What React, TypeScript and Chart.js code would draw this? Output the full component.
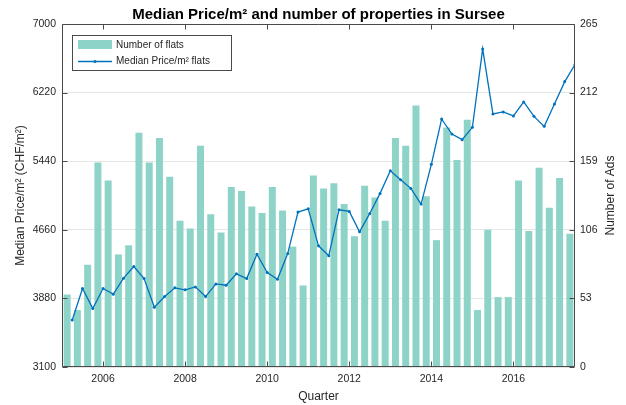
import React, { useEffect, useRef } from 'react';
import { Chart, registerables } from 'chart.js';

Chart.register(...registerables);

const QUARTERS = [
  '2005 Q1', '2005 Q2', '2005 Q3', '2005 Q4',
  '2006 Q1', '2006 Q2', '2006 Q3', '2006 Q4',
  '2007 Q1', '2007 Q2', '2007 Q3', '2007 Q4',
  '2008 Q1', '2008 Q2', '2008 Q3', '2008 Q4',
  '2009 Q1', '2009 Q2', '2009 Q3', '2009 Q4',
  '2010 Q1', '2010 Q2', '2010 Q3', '2010 Q4',
  '2011 Q1', '2011 Q2', '2011 Q3', '2011 Q4',
  '2012 Q1', '2012 Q2', '2012 Q3', '2012 Q4',
  '2013 Q1', '2013 Q2', '2013 Q3', '2013 Q4',
  '2014 Q1', '2014 Q2', '2014 Q3', '2014 Q4',
  '2015 Q1', '2015 Q2', '2015 Q3', '2015 Q4',
  '2016 Q1', '2016 Q2', '2016 Q3', '2016 Q4',
  '2017 Q1', '2017 Q2',
];

const FLATS = [
  56, 44, 79, 158, 144, 87, 94, 181, 158, 177,
  147, 113, 107, 171, 118, 104, 139, 136, 124, 119,
  139, 121, 93, 63, 148, 138, 142, 126, 101, 140,
  131, 113, 177, 171, 202, 132, 98, 185, 160, 191,
  44, 106, 54, 54, 144, 105, 154, 123, 146, 103,
];

const PRICE = [
  3635, 3992, 3764, 3992, 3928, 4110, 4242, 4106, 3780, 3901,
  4000, 3977, 4011, 3901, 4045, 4030, 4159, 4106, 4383, 4174,
  4098, 4390, 4861, 4899, 4478, 4364, 4888, 4869, 4637, 4846,
  5074, 5332, 5229, 5131, 4952, 5404, 5920, 5749, 5685, 5825,
  6717, 5977, 6000, 5955, 6114, 5950, 5836, 6091, 6345, 6539,
];

const LEFT_TICKS = [3100, 3880, 4660, 5440, 6220, 7000];
const RIGHT_TICKS = [0, 53, 106, 159, 212, 265];
const YEAR_TICKS = [2006, 2008, 2010, 2012, 2014, 2016];
const X_RANGE = [2005, 2017.5];

const TITLE = 'Median Price/m² and number of properties in Sursee';
const X_TITLE = 'Quarter';
const Y_TITLE = 'Median Price/m² (CHF/m²)';
const Y1_TITLE = 'Number of Ads';
const BAR_LABEL = 'Number of flats';
const LINE_LABEL = 'Median Price/m² flats';

const BAR_COLOR = '#8dd3c7';
const LINE_COLOR = '#0072bd';
const AXIS_COLOR = '#4a4a4a';
const TEXT_COLOR = '#262626';
const FONT = '"Liberation Sans", Arial, Helvetica, sans-serif';

function parseQuarter(q: string) {
  const [y, qq] = q.split(' Q');
  return { year: Number(y), q: Number(qq) };
}

const overlay = {
  id: 'matlabOverlay',
  afterDatasetsDraw(chart: any) {
    const { ctx, chartArea: a, scales } = chart;
    ctx.save();
    ctx.strokeStyle = AXIS_COLOR;
    ctx.lineWidth = 1;
    const L = Math.round(a.left) + 0.5;
    const R = Math.round(a.right) - 0.5;
    const T = Math.round(a.top) + 0.5;
    const B = Math.round(a.bottom) - 0.5;
    ctx.beginPath();
    ctx.rect(L, T, R - L, B - T);
    ctx.stroke();
    const tl = 5;
    ctx.beginPath();
    for (const v of YEAR_TICKS) {
      const x = Math.round(scales.x.getPixelForValue(v)) + 0.5;
      ctx.moveTo(x, B); ctx.lineTo(x, B - tl);
      ctx.moveTo(x, T); ctx.lineTo(x, T + tl);
    }
    for (const v of LEFT_TICKS) {
      const y = Math.round(scales.y.getPixelForValue(v)) + 0.5;
      ctx.moveTo(L, y); ctx.lineTo(L + tl, y);
    }
    for (const v of RIGHT_TICKS) {
      const y = Math.round(scales.y1.getPixelForValue(v)) + 0.5;
      ctx.moveTo(R, y); ctx.lineTo(R - tl, y);
    }
    ctx.stroke();

    // legend
    const lx = 72.5, ly = 35.5, lw = 159, lh = 35;
    ctx.fillStyle = '#ffffff';
    ctx.fillRect(lx, ly, lw, lh);
    ctx.strokeStyle = AXIS_COLOR;
    ctx.strokeRect(lx, ly, lw, lh);
    ctx.fillStyle = BAR_COLOR;
    ctx.fillRect(78, 40, 34, 9);
    ctx.strokeStyle = LINE_COLOR;
    ctx.lineWidth = 1.3;
    ctx.beginPath();
    ctx.moveTo(78, 61.5); ctx.lineTo(112, 61.5);
    ctx.stroke();
    ctx.fillStyle = LINE_COLOR;
    ctx.beginPath();
    ctx.arc(95, 61.5, 1.5, 0, Math.PI * 2);
    ctx.fill();
    ctx.fillStyle = TEXT_COLOR;
    ctx.font = `10px ${FONT}`;
    ctx.textAlign = 'left';
    ctx.textBaseline = 'middle';
    ctx.fillText(BAR_LABEL, 116, 45);
    ctx.fillText(LINE_LABEL, 116, 61.5);
    ctx.restore();
  },
  afterDraw(chart: any) {
    const { ctx, chartArea: a } = chart;
    const cx = (a.left + a.right) / 2;
    const cy = (a.top + a.bottom) / 2;
    ctx.save();
    ctx.fillStyle = '#000000';
    ctx.font = `bold 15px ${FONT}`;
    ctx.textAlign = 'center';
    ctx.textBaseline = 'alphabetic';
    ctx.fillText(TITLE, cx, 18.5);
    ctx.fillStyle = TEXT_COLOR;
    ctx.font = `12px ${FONT}`;
    ctx.textBaseline = 'middle';
    ctx.fillText(X_TITLE, cx, 397);
    ctx.save();
    ctx.translate(21, cy);
    ctx.rotate(-Math.PI / 2);
    ctx.fillText(Y_TITLE, 0, 0);
    ctx.restore();
    ctx.save();
    ctx.translate(611, cy);
    ctx.rotate(-Math.PI / 2);
    ctx.fillText(Y1_TITLE, 0, 0);
    ctx.restore();
    ctx.restore();
  },
};

export default function App() {
  const ref = useRef<HTMLCanvasElement | null>(null);
  useEffect(() => {
    if (!ref.current) return;
    Chart.defaults.font.family = FONT;
    const parsed = QUARTERS.map(parseQuarter);
    const barData = parsed.map((p, i) => ({ x: p.year + (p.q - 0.5) / 4, y: FLATS[i] }));
    const lineData = parsed.map((p, i) => ({ x: p.year + p.q / 4, y: PRICE[i] }));
    const chart = new Chart(ref.current, {
      type: 'bar',
      data: {
        datasets: [
          {
            type: 'line',
            label: LINE_LABEL,
            data: lineData,
            xAxisID: 'x',
            yAxisID: 'y',
            borderColor: LINE_COLOR,
            backgroundColor: LINE_COLOR,
            borderWidth: 1.3,
            pointRadius: 1.5,
            pointBorderWidth: 0,
            pointBackgroundColor: LINE_COLOR,
            tension: 0,
            order: 0,
          } as any,
          {
            type: 'bar',
            label: BAR_LABEL,
            data: barData,
            xAxisID: 'x',
            yAxisID: 'y1',
            backgroundColor: BAR_COLOR,
            borderWidth: 0,
            barPercentage: 0.68,
            categoryPercentage: 1,
            order: 1,
          } as any,
        ],
      },
      options: {
        responsive: false,
        animation: false,
        layout: { padding: { top: 24, left: 0, right: 0, bottom: 0 } },
        plugins: {
          legend: { display: false },
          title: { display: false },
          tooltip: { enabled: false },
        },
        scales: {
          x: {
            type: 'linear',
            position: 'bottom',
            min: X_RANGE[0],
            max: X_RANGE[1],
            offset: false,
            grid: { display: false, drawTicks: false },
            border: { display: false },
            afterBuildTicks: (s: any) => { s.ticks = YEAR_TICKS.map((v) => ({ value: v })); },
            afterFit: (s: any) => { s.height = 38; },
            ticks: {
              padding: 6,
              color: TEXT_COLOR,
              font: { size: 10.5 },
              maxRotation: 0,
              autoSkip: false,
              callback: (v: any) => String(v),
            },
          },
          y: {
            type: 'linear',
            position: 'left',
            min: LEFT_TICKS[0],
            max: LEFT_TICKS[LEFT_TICKS.length - 1],
            grid: { display: true, drawTicks: false, color: '#e6e6e6', lineWidth: 1 },
            border: { display: false },
            afterBuildTicks: (s: any) => { s.ticks = LEFT_TICKS.map((v) => ({ value: v })); },
            afterFit: (s: any) => { s.width = 62; },
            ticks: {
              padding: 6,
              color: TEXT_COLOR,
              font: { size: 10.5 },
              callback: (v: any) => String(v),
            },
          },
          y1: {
            type: 'linear',
            position: 'right',
            min: RIGHT_TICKS[0],
            max: RIGHT_TICKS[RIGHT_TICKS.length - 1],
            grid: { display: false, drawOnChartArea: false, drawTicks: false },
            border: { display: false },
            afterBuildTicks: (s: any) => { s.ticks = RIGHT_TICKS.map((v) => ({ value: v })); },
            afterFit: (s: any) => { s.width = 51; },
            ticks: {
              padding: 5,
              color: TEXT_COLOR,
              font: { size: 10.5 },
              callback: (v: any) => String(v),
            },
          },
        },
      } as any,
      plugins: [overlay],
    });
    return () => chart.destroy();
  }, []);
  return (
    <div style={{ position: 'absolute', left: 0, top: 0, width: 626, height: 405, background: '#ffffff' }}>
      <canvas ref={ref} width={626} height={405} style={{ display: 'block' }} />
    </div>
  );
}
